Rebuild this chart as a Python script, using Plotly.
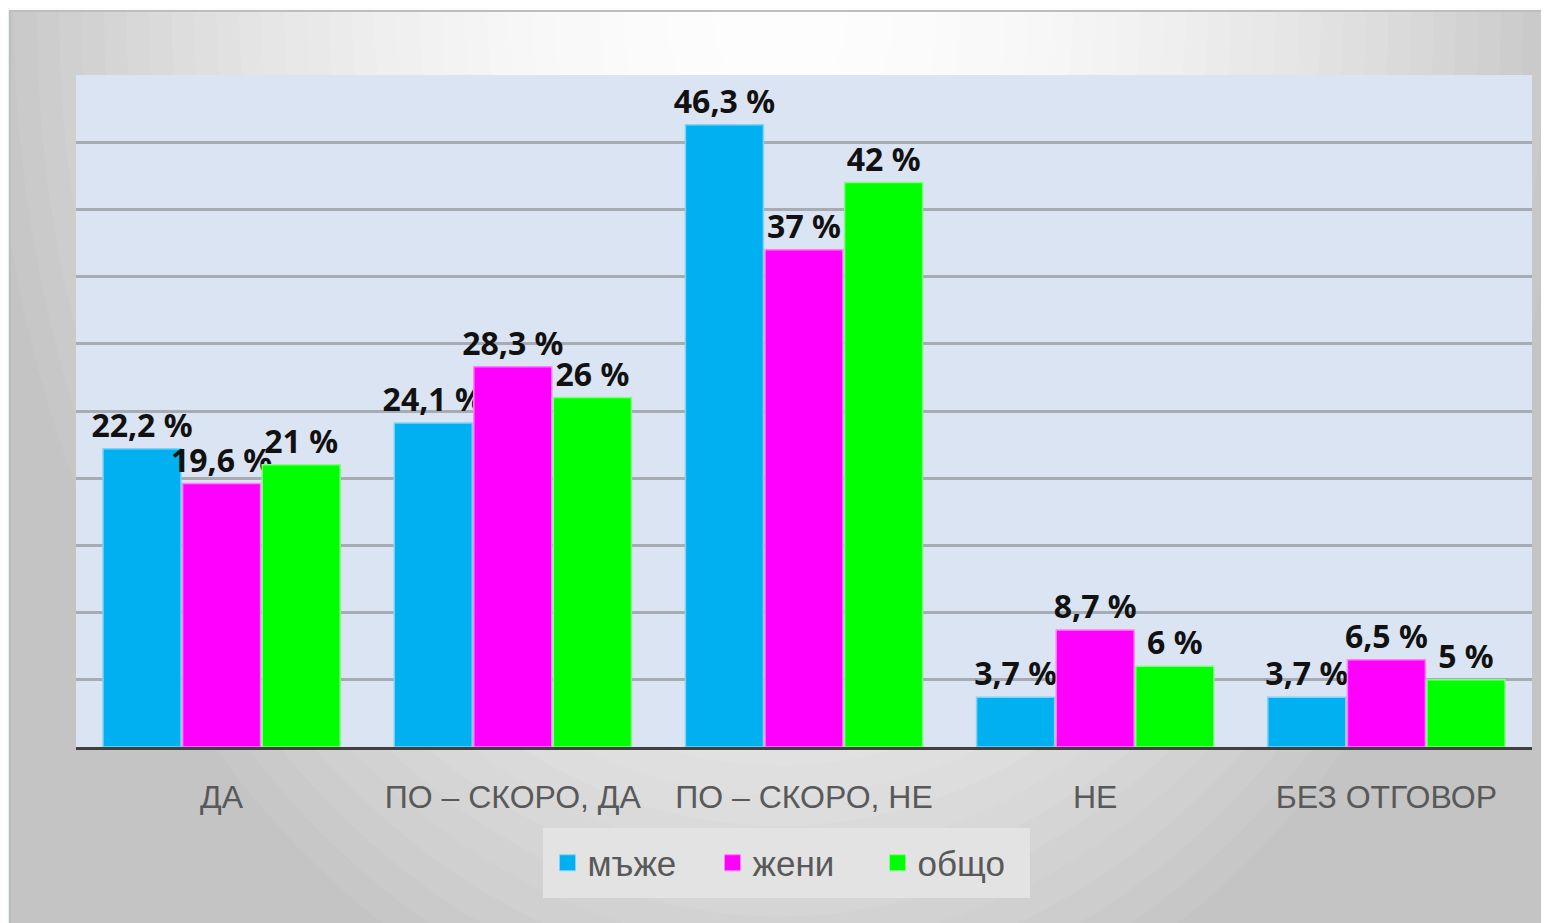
import plotly.graph_objects as go

# данни
categories = ["ДА", "ПО – СКОРО, ДА", "ПО – СКОРО, НЕ", "НЕ", "БЕЗ ОТГОВОР"]
men = [22.2, 24.1, 46.3, 3.7, 3.7]
women = [19.6, 28.3, 37, 8.7, 6.5]
total = [21, 26, 42, 6, 5]
series_names = ["мъже", "жени", "общо"]
series_colors = ["#00B0F0", "#FF00FF", "#00FF00"]
edge_colors = ["#7FD3F7", "#FF80FF", "#80FF80"]

# страницата има 8px отстъп, затова фигурата е по-малка
OFF = 8
W, H = 1549 - OFF, 923 - OFF
L, R, T, B = 76, 1532, 75, 747  # екранни координати на зоната


def px(x):
    return (x - L) / (R - L)


def py(y):
    return (B - y) / (B - T)


def label(v):
    return f"{v:g}".replace(".", ",") + " %"


fig = go.Figure()
for name, vals, col, edge in zip(series_names, [men, women, total], series_colors, edge_colors):
    fig.add_trace(go.Bar(
        x=categories, y=vals, name=name, legendgroup=name, showlegend=False,
        marker=dict(color=col, line=dict(color=edge, width=1.5)),
        text=[label(v) for v in vals],
        textposition="outside", constraintext="none",
        textfont=dict(family="Noto Sans", size=32, color="#111111", weight="bold"),
        cliponaxis=False,
    ))
# легенда с по-големи квадратчета
for name, col, edge in zip(series_names, series_colors, edge_colors):
    fig.add_trace(go.Scatter(
        x=[None], y=[None], mode="markers", name=name, legendgroup=name,
        marker=dict(symbol="square", size=20, color=col, line=dict(color=edge, width=1)),
    ))

# фон: радиален сив градиент от горния център (стъпаловидно с елипси)
cx, cy, rx0, ry0 = 780, 10, 780, 1046
shapes = [dict(type="rect", xref="paper", yref="paper", layer="below",
               x0=px(0), x1=px(1560), y0=py(0), y1=py(930),
               fillcolor="#C4C4C4", line=dict(width=0))]
n = 45
for i in range(n):
    s = 1.3 * (1 - i / n)
    g = int(round(max(196, 253 - 53 * s * s)))
    shapes.append(dict(type="circle", xref="paper", yref="paper", layer="below",
                       x0=px(cx - rx0 * s), x1=px(cx + rx0 * s),
                       y0=py(cy + ry0 * s), y1=py(cy - ry0 * s),
                       fillcolor=f"rgb({g},{g},{g})", line=dict(width=0)))
# ивици извън рамката
shapes.append(dict(type="rect", xref="paper", yref="paper", layer="below",
                   x0=px(0), x1=px(1560), y0=py(0), y1=py(10),
                   fillcolor="#FBFCFC", line=dict(width=0)))
shapes.append(dict(type="rect", xref="paper", yref="paper", layer="below",
                   x0=px(0), x1=px(9), y0=py(0), y1=py(930),
                   fillcolor="#E2F1FA", line=dict(width=0)))
shapes.append(dict(type="rect", xref="paper", yref="paper", layer="below",
                   x0=px(9), x1=px(1560), y0=py(10), y1=py(12),
                   fillcolor="#BDBDBD", line=dict(width=0)))
shapes.append(dict(type="rect", xref="paper", yref="paper", layer="below",
                   x0=px(9), x1=px(11), y0=py(10), y1=py(930),
                   fillcolor="#BDBDBD", line=dict(width=0)))
# зона на графиката
shapes.append(dict(type="rect", xref="paper", yref="paper", layer="below",
                   x0=0, x1=1, y0=0, y1=1,
                   fillcolor="#DBE4F2", line=dict(width=0)))
# фон на легендата
shapes.append(dict(type="rect", xref="paper", yref="paper", layer="below",
                   x0=px(543), x1=px(1030), y0=py(898), y1=py(828),
                   fillcolor="#E3E3E3", line=dict(width=0)))

fig.update_layout(
    width=W, height=H,
    margin=dict(l=L - OFF, r=W - (R - OFF), t=T - OFF, b=H - (B - OFF)),
    paper_bgcolor="#FFFFFF",
    plot_bgcolor="rgba(0,0,0,0)",
    shapes=shapes,
    barmode="group",
    bargap=0.18,
    bargroupgap=0.02,
    font=dict(family="Liberation Sans", color="#595959"),
    showlegend=True,
    legend=dict(
        orientation="h", x=px(795), y=py(863), xanchor="center", yanchor="middle",
        bgcolor="rgba(0,0,0,0)", font=dict(size=35, color="#595959", family="Liberation Sans"),
        itemwidth=30, entrywidth=120, traceorder="normal",
    ),
    xaxis=dict(
        showgrid=False, showline=True, linecolor="#404040", linewidth=3,
        ticks="", ticklabelstandoff=20,
        tickfont=dict(size=32, color="#595959", family="Liberation Sans"),
    ),
    yaxis=dict(
        range=[0, 50], dtick=5, showticklabels=False,
        showgrid=True, gridcolor="#A6ABB4", gridwidth=3,
        zeroline=False, showline=False,
    ),
)

fig.write_html("out.html")
